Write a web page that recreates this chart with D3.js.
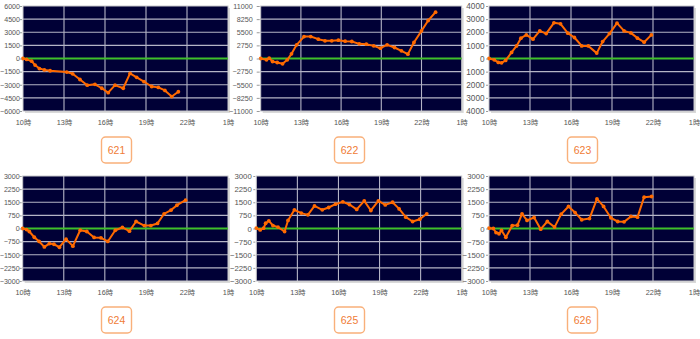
<!DOCTYPE html>
<html>
<head>
<meta charset="utf-8">
<script src="https://cdn.jsdelivr.net/npm/d3@7"></script>
<style>
  html, body { margin: 0; padding: 0; background: #fff; }
  svg { display: block; font-family: "Liberation Sans", Arial, "Noto Sans CJK JP", sans-serif; }
</style>
</head>
<body>
<svg id="chart" width="700" height="339"></svg>
<script>
// Hour axis: 10時 through 1時 (next day = 25h)
const hourTicks = [10, 13, 16, 19, 22, 25];
const hourLabels = ["10時", "13時", "16時", "19時", "22時", "1時"];

// Machine numbers
const machineNames = ["621", "622", "623", "624", "625", "626"];

// Cumulative balance over the day, one series per machine
const times621 = ["10:00","10:16","10:38","10:53","11:12","11:34","11:59","13:12","13:38","14:10","14:42","15:16","15:46","16:14","16:44","17:20","17:50","18:19","18:51","19:25","19:54","20:23","20:53","21:22"];
const values621 = [0,-100,-300,-750,-1150,-1300,-1400,-1550,-1750,-2400,-3050,-2950,-3400,-3900,-3050,-3400,-1700,-2150,-2650,-3200,-3300,-3650,-4350,-3800];

const times622 = ["10:00","10:26","10:38","10:53","11:14","11:38","11:59","12:18","12:41","13:14","13:44","14:18","14:48","15:18","15:48","16:18","16:48","17:21","17:53","18:26","18:56","19:26","19:59","20:30","20:59","21:26","22:00","22:30","23:03"];
const values622 = [0,-280,70,-630,-840,-1120,-280,980,2860,4600,4600,4050,3700,3700,3840,3630,3560,3070,3000,2650,2160,2860,2300,1600,910,3350,5790,7960,9700];

const times623 = ["10:00","10:23","10:41","10:55","11:13","11:39","12:01","12:20","12:44","13:13","13:43","14:11","14:45","15:14","15:46","16:15","16:47","17:16","17:53","18:19","18:49","19:22","19:53","20:23","20:52","21:21","21:53"];
const values623 = [0,-100,-300,-330,-150,460,960,1550,1800,1470,2100,1900,2720,2640,1930,1600,960,960,410,1290,1900,2690,2100,1950,1550,1240,1800];

const times624 = ["10:00","10:17","10:29","10:51","11:12","11:35","11:57","12:17","12:41","13:10","13:40","14:12","14:41","15:13","15:43","16:13","16:46","17:17","17:48","18:17","18:53","19:22","19:51","20:20","20:50","21:16","21:54"];
const values624 = [0,-60,-170,-500,-740,-1050,-860,-900,-1070,-610,-1010,-100,-170,-510,-530,-740,-100,60,-150,400,170,170,290,840,1050,1330,1620];

const times625 = ["10:00","10:17","10:32","10:41","10:55","11:13","11:35","12:04","12:19","12:47","13:17","13:46","14:15","14:49","15:17","15:47","16:19","16:48","17:20","17:53","18:22","18:55","19:25","19:57","20:26","20:55","21:25","21:56","22:27"];
const values625 = [20,-80,20,300,440,170,80,-170,460,1070,880,780,1290,1070,1200,1390,1520,1370,1090,1580,1030,1580,1350,1500,1120,650,400,530,840];

const times626 = ["10:00","10:19","10:31","10:44","10:55","11:14","11:42","12:05","12:25","12:47","13:18","13:47","14:16","14:48","15:17","15:49","16:18","16:47","17:21","17:54","18:23","18:55","19:25","19:53","20:23","20:52","21:21","21:54"];
const values626 = [20,0,-230,-300,-110,-500,170,190,840,460,630,-40,400,80,820,1260,910,500,570,1690,1260,610,400,380,690,650,1790,1830];

// Value-axis ticks per machine
const ticks621 = [-6000,-4500,-3000,-1500,0,1500,3000,4500,6000];
const ticks622 = [-11000,-8250,-5500,-2750,0,2750,5500,8250,11000];
const ticks623 = [-4000,-3000,-2000,-1000,0,1000,2000,3000,4000];
const ticks624 = [-3000,-2250,-1500,-750,0,750,1500,2250,3000];
const ticks625 = [-3000,-2250,-1500,-750,0,750,1500,2250,3000];
const ticks626 = [-3000,-2250,-1500,-750,0,750,1500,2250,3000];

const seriesTimes = [times621, times622, times623, times624, times625, times626];
const seriesValues = [values621, values622, values623, values624, values625, values626];
const seriesTicks = [ticks621, ticks622, ticks623, ticks624, ticks625, ticks626];

// Tick label formats: plain integers; machine 623's scale is printed unsigned
const plainFormat = d3.format("d");
const unsignedFormat = d => d3.format("d")(Math.abs(d));
const tickFormats = [plainFormat, plainFormat, unsignedFormat, plainFormat, plainFormat, plainFormat];

// Panel geometry (plot box, name badge centre, value-label font and offsets)
const layout = [
  { left: 23,    right: 228,   top: 6,   bottom: 111, cx: 116.5, cy: 150, font: 7.1, tick: 2, pad: 0 },
  { left: 260.7, right: 461.7, top: 6,   bottom: 111, cx: 349.5, cy: 150, font: 7.2, tick: 3, pad: 4 },
  { left: 489,   right: 694,   top: 6,   bottom: 111, cx: 582.5, cy: 150, font: 8.2, tick: 2, pad: 1.5 },
  { left: 22.7,  right: 228,   top: 176, bottom: 281, cx: 116.5, cy: 320, font: 7.1, tick: 2, pad: 0 },
  { left: 256.3, right: 461.7, top: 176, bottom: 281, cx: 349.5, cy: 320, font: 7.8, tick: 2, pad: 1.5 },
  { left: 489,   right: 694,   top: 176, bottom: 281, cx: 582.5, cy: 320, font: 7.8, tick: 2, pad: 1.5 }
];

const parseHour = s => { const [h, m] = s.split(":").map(Number); return h + m / 60; };

const svg = d3.select("#chart");

machineNames.forEach((name, i) => {
  const L = layout[i];
  const ticks = seriesTicks[i];
  const data = seriesTimes[i].map((t, k) => ({ h: parseHour(t), v: seriesValues[i][k] }));

  const x = d3.scaleLinear().domain([10, 25]).range([L.left, L.right]);
  const y = d3.scaleLinear().domain([ticks[0], ticks[ticks.length - 1]]).range([L.bottom, L.top]);

  const g = svg.append("g");

  // drop shadow + plot background
  g.append("rect")
    .attr("x", L.left + 2).attr("y", L.top + 2)
    .attr("width", L.right - L.left).attr("height", L.bottom - L.top)
    .attr("fill", "#d9d9d9");
  g.append("rect")
    .attr("x", L.left).attr("y", L.top)
    .attr("width", L.right - L.left).attr("height", L.bottom - L.top)
    .attr("fill", "#000036");

  // horizontal grid
  g.append("g").selectAll("line")
    .data(ticks.filter(t => t !== 0 && t !== ticks[0] && t !== ticks[ticks.length - 1]))
    .join("line")
    .attr("x1", L.left).attr("x2", L.right)
    .attr("y1", d => y(d)).attr("y2", d => y(d))
    .attr("stroke", "#b4b4c6").attr("stroke-width", 1.1);

  // vertical grid
  g.append("g").selectAll("line")
    .data(hourTicks.slice(1, -1))
    .join("line")
    .attr("x1", d => x(d)).attr("x2", d => x(d))
    .attr("y1", L.top).attr("y2", L.bottom)
    .attr("stroke", "#b4b4c6").attr("stroke-width", 1.1);

  // plot border
  g.append("rect")
    .attr("x", L.left).attr("y", L.top)
    .attr("width", L.right - L.left).attr("height", L.bottom - L.top)
    .attr("fill", "none").attr("stroke", "#c8c8cc").attr("stroke-width", 1);

  // zero line
  g.append("line")
    .attr("x1", L.left).attr("x2", L.right)
    .attr("y1", y(0)).attr("y2", y(0))
    .attr("stroke", "#3fbf2a").attr("stroke-width", 2);

  // balance line + markers
  g.append("path")
    .datum(data)
    .attr("fill", "none")
    .attr("stroke", "#ff6a00")
    .attr("stroke-width", 2)
    .attr("stroke-linejoin", "round")
    .attr("d", d3.line().x(d => x(d.h)).y(d => y(d.v)));
  g.append("g").selectAll("circle")
    .data(data)
    .join("circle")
    .attr("cx", d => x(d.h)).attr("cy", d => y(d.v))
    .attr("r", 1.9)
    .attr("fill", "#ff6a00");

  // value axis
  const ya = g.append("g")
    .attr("transform", `translate(${L.left - 1},0)`)
    .call(d3.axisLeft(y).tickValues(ticks).tickFormat(tickFormats[i]).tickSize(L.tick).tickPadding(L.pad));
  ya.select(".domain").remove();
  ya.selectAll(".tick line").attr("stroke", "#9a9a9a");
  ya.selectAll(".tick text")
    .attr("fill", "#555").attr("font-size", L.font)
    .attr("font-family", "Liberation Sans, Arial, sans-serif");

  // hour axis
  const xa = g.append("g")
    .attr("transform", `translate(0,${L.bottom})`)
    .call(d3.axisBottom(x).tickValues(hourTicks).tickFormat((d, k) => hourLabels[k]).tickSize(0).tickPadding(9));
  xa.select(".domain").remove();
  xa.selectAll(".tick text")
    .attr("fill", "#555").attr("font-size", 7.3)
    .attr("font-family", "Liberation Sans, Noto Sans CJK JP, sans-serif");

  // machine number badge
  const b = svg.append("g").attr("transform", `translate(${L.cx},${L.cy})`);
  b.append("rect")
    .attr("x", -15).attr("y", -13).attr("width", 30).attr("height", 26)
    .attr("rx", 4).attr("ry", 4)
    .attr("fill", "#fff").attr("stroke", "#f9b07a").attr("stroke-width", 1.4);
  b.append("text")
    .attr("text-anchor", "middle").attr("dy", "0.36em")
    .attr("font-size", 10.5).attr("fill", "#f07c36")
    .text(name);
});
</script>
</body>
</html>
